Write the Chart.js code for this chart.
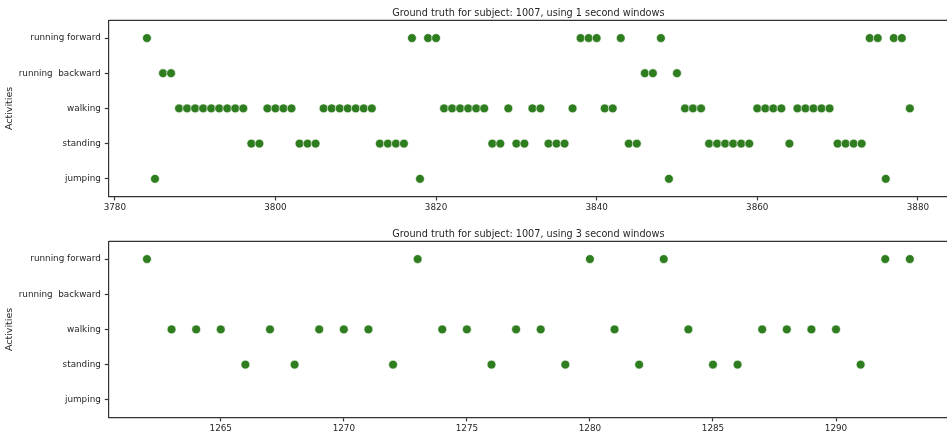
<!DOCTYPE html>
<html lang="en">
<head>
    <meta charset="UTF-8">
    <title>Ground truth for subject 1007</title>
    <script src="https://cdn.jsdelivr.net/npm/chart.js@4.4.0/dist/chart.umd.min.js"></script>
    <style>
        html, body { margin: 0; padding: 0; background: #fff; overflow: hidden; }
        .panel { position: absolute; left: 0; width: 953px; height: 220px; }
    </style>
</head>
<body>
    <div class="panel" style="top:0px"><canvas id="chart1s"></canvas></div>
    <div class="panel" style="top:220.5px"><canvas id="chart3s"></canvas></div>
    <script>
        // activity names, top to bottom
        const activities = ['running forward', 'running  backward', 'walking', 'standing', 'jumping'];

        // 1 second windows: window index and activity (index into activities)
        const times1s = [
            3784, 3785, 3786, 3787, 3788, 3789, 3790, 3791, 3792, 3793, 3794, 3795, 3796, 3797, 3798, 3799,
            3800, 3801, 3802, 3803, 3804, 3805, 3806, 3807, 3808, 3809, 3810, 3811, 3812, 3813, 3814, 3815,
            3816, 3817, 3818, 3819, 3820, 3821, 3822, 3823, 3824, 3825, 3826, 3827, 3828, 3829, 3830, 3831,
            3832, 3833, 3834, 3835, 3836, 3837, 3838, 3839, 3840, 3841, 3842, 3843, 3844, 3845, 3846, 3847,
            3848, 3849, 3850, 3851, 3852, 3853, 3854, 3855, 3856, 3857, 3858, 3859, 3860, 3861, 3862, 3863,
            3864, 3865, 3866, 3867, 3868, 3869, 3870, 3871, 3872, 3873, 3874, 3875, 3876, 3877, 3878, 3879
        ];
        const acts1s = [
            0, 4, 1, 1, 2, 2, 2, 2, 2, 2, 2, 2, 2, 3, 3, 2,
            2, 2, 2, 3, 3, 3, 2, 2, 2, 2, 2, 2, 2, 3, 3, 3,
            3, 0, 4, 0, 0, 2, 2, 2, 2, 2, 2, 3, 3, 2, 3, 3,
            2, 2, 3, 3, 3, 2, 0, 0, 0, 2, 2, 0, 3, 3, 1, 1,
            0, 4, 1, 2, 2, 2, 3, 3, 3, 3, 3, 3, 2, 2, 2, 2,
            3, 2, 2, 2, 2, 2, 3, 3, 3, 3, 0, 0, 4, 0, 0, 2
        ];

        // 3 second windows
        const times3s = [
            1262, 1263, 1264, 1265, 1266, 1267, 1268, 1269, 1270, 1271, 1272, 1273, 1274, 1275, 1276, 1277,
            1278, 1279, 1280, 1281, 1282, 1283, 1284, 1285, 1286, 1287, 1288, 1289, 1290, 1291, 1292, 1293
        ];
        const acts3s = [
            0, 2, 2, 2, 3, 2, 3, 2, 2, 2, 3, 0, 2, 2, 3, 2,
            2, 3, 0, 2, 3, 0, 2, 3, 3, 2, 2, 2, 2, 3, 0, 0
        ];

        const xTicks1s = { min: 3779.25, max: 3883.75, step: 20 };
        const xTicks3s = { min: 1260.45, max: 1294.55, step: 5 };

        const dark = '#262626';
        const dotColor = '#2e7d1f';

        // top spine (Chart.js only draws the axis borders)
        const topSpine = {
            id: 'topSpine',
            afterDraw(chart) {
                const { ctx, chartArea } = chart;
                ctx.save();
                ctx.strokeStyle = '#333';
                ctx.lineWidth = 1.2;
                ctx.beginPath();
                ctx.moveTo(chartArea.left, chartArea.top);
                ctx.lineTo(chartArea.right + 10, chartArea.top);
                ctx.stroke();
                ctx.restore();
            }
        };

        function makeChart(id, title, times, acts, xr) {
            const points = times.map((t, i) => ({ x: t, y: activities[acts[i]] }));
            return new Chart(document.getElementById(id), {
                type: 'scatter',
                data: {
                    datasets: [{
                        data: points,
                        backgroundColor: dotColor,
                        borderColor: '#ffffff',
                        borderWidth: 0.6,
                        pointRadius: 4.4
                    }]
                },
                options: {
                    responsive: true,
                    maintainAspectRatio: false,
                    animation: false,
                    layout: { padding: { left: 0, right: 2, top: 0, bottom: 0 } },
                    plugins: {
                        legend: { display: false },
                        tooltip: { enabled: false },
                        title: {
                            display: true,
                            text: title,
                            fullSize: false,
                            color: dark,
                            font: { family: 'DejaVu Sans', size: 9.7, weight: 'normal' },
                            padding: { top: 7.6, bottom: 1.2 }
                        }
                    },
                    scales: {
                        x: {
                            type: 'linear',
                            min: xr.min,
                            max: xr.max,
                            ticks: {
                                stepSize: xr.step,
                                includeBounds: false,
                                maxRotation: 0,
                                color: dark,
                                padding: 2,
                                font: { family: 'DejaVu Sans', size: 8.8 },
                                callback: (v) => String(v)
                            },
                            grid: { drawOnChartArea: false, tickLength: 4, tickColor: '#333', tickWidth: 1.2 },
                            border: { color: '#333', width: 1.2 },
                            afterFit(scale) { scale.height = 23.6; }
                        },
                        y: {
                            type: 'category',
                            labels: activities,
                            offset: true,
                            ticks: {
                                color: dark,
                                padding: 4,
                                font: { family: 'DejaVu Sans', size: 8.8 }
                            },
                            grid: { drawOnChartArea: false, offset: false, tickLength: 4, tickColor: '#333', tickWidth: 1.2 },
                            border: { color: '#333', width: 1.2 },
                            title: {
                                display: true,
                                text: 'Activities',
                                color: dark,
                                font: { family: 'DejaVu Sans', size: 9.5 },
                                padding: { top: 4, bottom: 0 }
                            },
                            afterFit(scale) { scale.width = 108.8; }
                        }
                    }
                },
                plugins: [topSpine]
            });
        }

        makeChart('chart1s', 'Ground truth for subject: 1007, using 1 second windows', times1s, acts1s, xTicks1s);
        makeChart('chart3s', 'Ground truth for subject: 1007, using 3 second windows', times3s, acts3s, xTicks3s);
    </script>
</body>
</html>
